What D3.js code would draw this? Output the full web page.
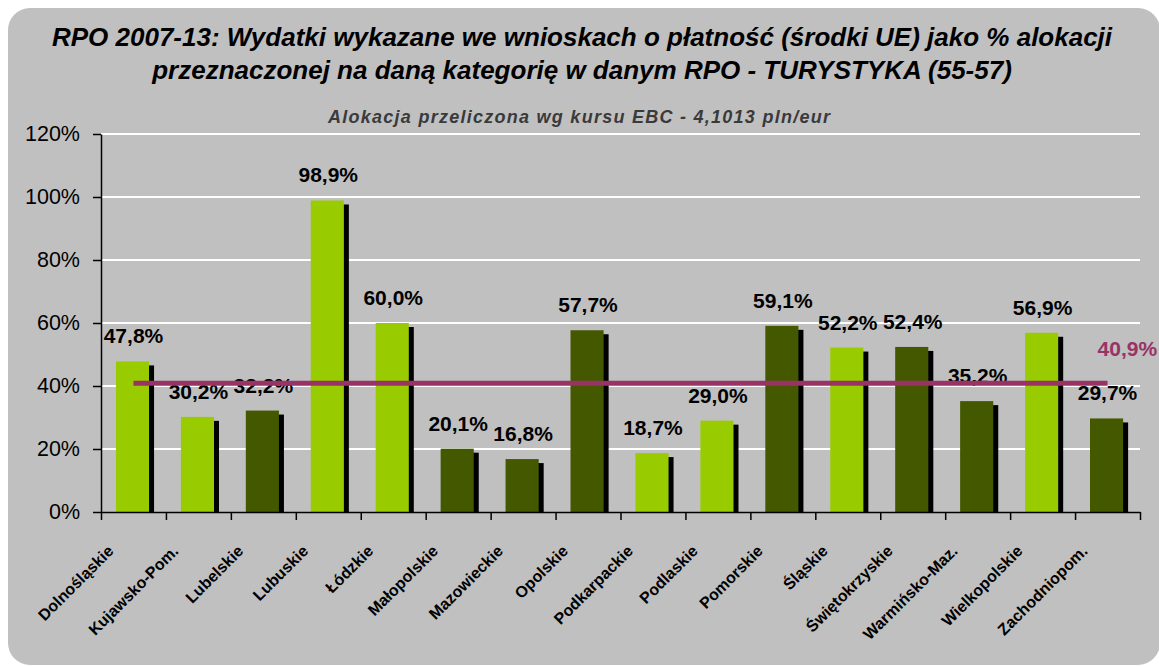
<!DOCTYPE html>
<html>
<head>
<meta charset="utf-8">
<script src="https://cdn.jsdelivr.net/npm/d3@7"></script>
<style>
  body { margin: 0; background: #fff; }
  text { font-family: "Liberation Sans", Arial, sans-serif; }
</style>
</head>
<body>
<div id="chart"></div>
<script>
// data
var regions = ["Dolnośląskie", "Kujawsko-Pom.", "Lubelskie", "Lubuskie", "Łódzkie", "Małopolskie",
  "Mazowieckie", "Opolskie", "Podkarpackie", "Podlaskie", "Pomorskie", "Śląskie",
  "Świętokrzyskie", "Warmińsko-Maz.", "Wielkopolskie", "Zachodniopom."];
var values = [47.8, 30.2, 32.2, 98.9, 60.0, 20.1, 16.8, 57.7, 18.7, 29.0, 59.1, 52.2, 52.4, 35.2, 56.9, 29.7];
// 1 = light green bar, 0 = dark green bar
var lightBar = [1, 1, 0, 1, 1, 0, 0, 0, 1, 1, 0, 1, 0, 0, 1, 0];
var average = 40.9;
var yTicks = [0, 20, 40, 60, 80, 100, 120];

var titleLines = ["RPO 2007-13: Wydatki wykazane we wnioskach o płatność (środki UE) jako % alokacji",
  "przeznaczonej na daną kategorię w danym RPO - TURYSTYKA (55-57)"];
var subtitle = "Alokacja przeliczona wg kursu EBC - 4,1013 pln/eur";

var W = 1159, H = 666;
var plot = { left: 101, right: 1140, top: 134, bottom: 512 };

var svg = d3.select("#chart").append("svg")
  .attr("width", W)
  .attr("height", H);

// gray panel
svg.append("rect")
  .attr("x", 8).attr("y", 8)
  .attr("width", 1152).attr("height", 657)
  .attr("rx", 22)
  .attr("fill", "#c0c0c0");

// titles
svg.selectAll(".title")
  .data(titleLines)
  .enter()
  .append("text")
  .attr("class", "title")
  .attr("x", 582)
  .attr("y", (d, i) => 46 + i * 33)
  .attr("text-anchor", "middle")
  .style("font-size", "26px")
  .style("font-weight", "bold")
  .style("font-style", "italic")
  .attr("fill", "#000")
  .text(d => d);

svg.append("text")
  .attr("x", 579)
  .attr("y", 123)
  .attr("text-anchor", "middle")
  .attr("textLength", 502)
  .attr("lengthAdjust", "spacing")
  .style("font-size", "18px")
  .style("font-weight", "bold")
  .style("font-style", "italic")
  .attr("fill", "#3a3a3a")
  .text(subtitle);

// scales
var x = d3.scaleBand()
  .domain(regions)
  .range([plot.left, plot.right]);

var y = d3.scaleLinear()
  .domain([0, 120])
  .range([plot.bottom, plot.top]);

var bw = x.bandwidth();
var barOff = bw * 0.23, barW = bw * 0.51;

// gridlines
svg.append("g")
  .selectAll("line")
  .data(yTicks.filter(d => d > 0))
  .enter()
  .append("line")
  .attr("x1", plot.left).attr("x2", plot.right)
  .attr("y1", d => y(d)).attr("y2", d => y(d))
  .attr("stroke", "#fff")
  .attr("stroke-width", 2);

// shadows
svg.append("g")
  .selectAll("rect")
  .data(values)
  .enter()
  .append("rect")
  .attr("x", (d, i) => x(regions[i]) + barOff + 5)
  .attr("y", d => y(d) + 4)
  .attr("width", barW)
  .attr("height", d => plot.bottom - y(d) - 4)
  .attr("fill", "#000");

// bars
svg.append("g")
  .selectAll("rect")
  .data(values)
  .enter()
  .append("rect")
  .attr("x", (d, i) => x(regions[i]) + barOff)
  .attr("y", d => y(d))
  .attr("width", barW)
  .attr("height", d => plot.bottom - y(d))
  .attr("fill", (d, i) => lightBar[i] ? "#99cc00" : "#445800");

// y axis
var yAxis = d3.axisLeft(y)
  .tickValues(yTicks)
  .tickSize(8)
  .tickSizeOuter(0)
  .tickFormat(d => d + "%");

var gy = svg.append("g")
  .attr("transform", `translate(${plot.left},0)`)
  .call(yAxis);
gy.select(".domain").attr("stroke", "#000").attr("stroke-width", 1.5);
gy.selectAll(".tick line").attr("stroke", "#000").attr("stroke-width", 1.5);
gy.selectAll(".tick text")
  .attr("x", -21)
  .style("font-size", "21.5px")
  .style("font-family", "'Liberation Sans', Arial, sans-serif")
  .attr("fill", "#000");

// x axis (ticks between categories)
var xIdx = d3.scaleLinear().domain([0, regions.length]).range([plot.left, plot.right]);
var gx = svg.append("g")
  .attr("transform", `translate(0,${plot.bottom})`)
  .call(d3.axisBottom(xIdx)
    .tickValues(d3.range(regions.length + 1))
    .tickSize(8)
    .tickSizeOuter(0)
    .tickFormat(""));
gx.select(".domain").attr("stroke", "#000").attr("stroke-width", 1.5);
gx.selectAll(".tick line").attr("stroke", "#000").attr("stroke-width", 1.5);

// category labels
svg.append("g")
  .selectAll("text")
  .data(regions)
  .enter()
  .append("text")
  .attr("transform", d => `translate(${x(d) + bw / 2 - 19},${plot.bottom + 40}) rotate(-45)`)
  .attr("text-anchor", "end")
  .style("font-size", "16px")
  .style("font-weight", "bold")
  .attr("fill", "#000")
  .text(d => d);

// value labels
svg.append("g")
  .selectAll("text")
  .data(values)
  .enter()
  .append("text")
  .attr("x", (d, i) => x(regions[i]) + bw / 2)
  .attr("y", d => y(d) - 18)
  .attr("text-anchor", "middle")
  .style("font-size", "21px")
  .style("font-weight", "bold")
  .attr("fill", "#000")
  .text(d => d.toFixed(1).replace(".", ",") + "%");

// average line
var first = regions[0], last = regions[regions.length - 1];
svg.append("line")
  .attr("x1", x(first) + bw / 2)
  .attr("x2", x(last) + bw / 2)
  .attr("y1", y(average)).attr("y2", y(average))
  .attr("stroke", "#993366")
  .attr("stroke-width", 5);

svg.append("text")
  .attr("x", x(last) + bw / 2 - 10)
  .attr("y", y(average) - 27)
  .style("font-size", "21px")
  .style("font-weight", "bold")
  .attr("fill", "#993366")
  .text(average.toFixed(1).replace(".", ",") + "%");
</script>
</body>
</html>
